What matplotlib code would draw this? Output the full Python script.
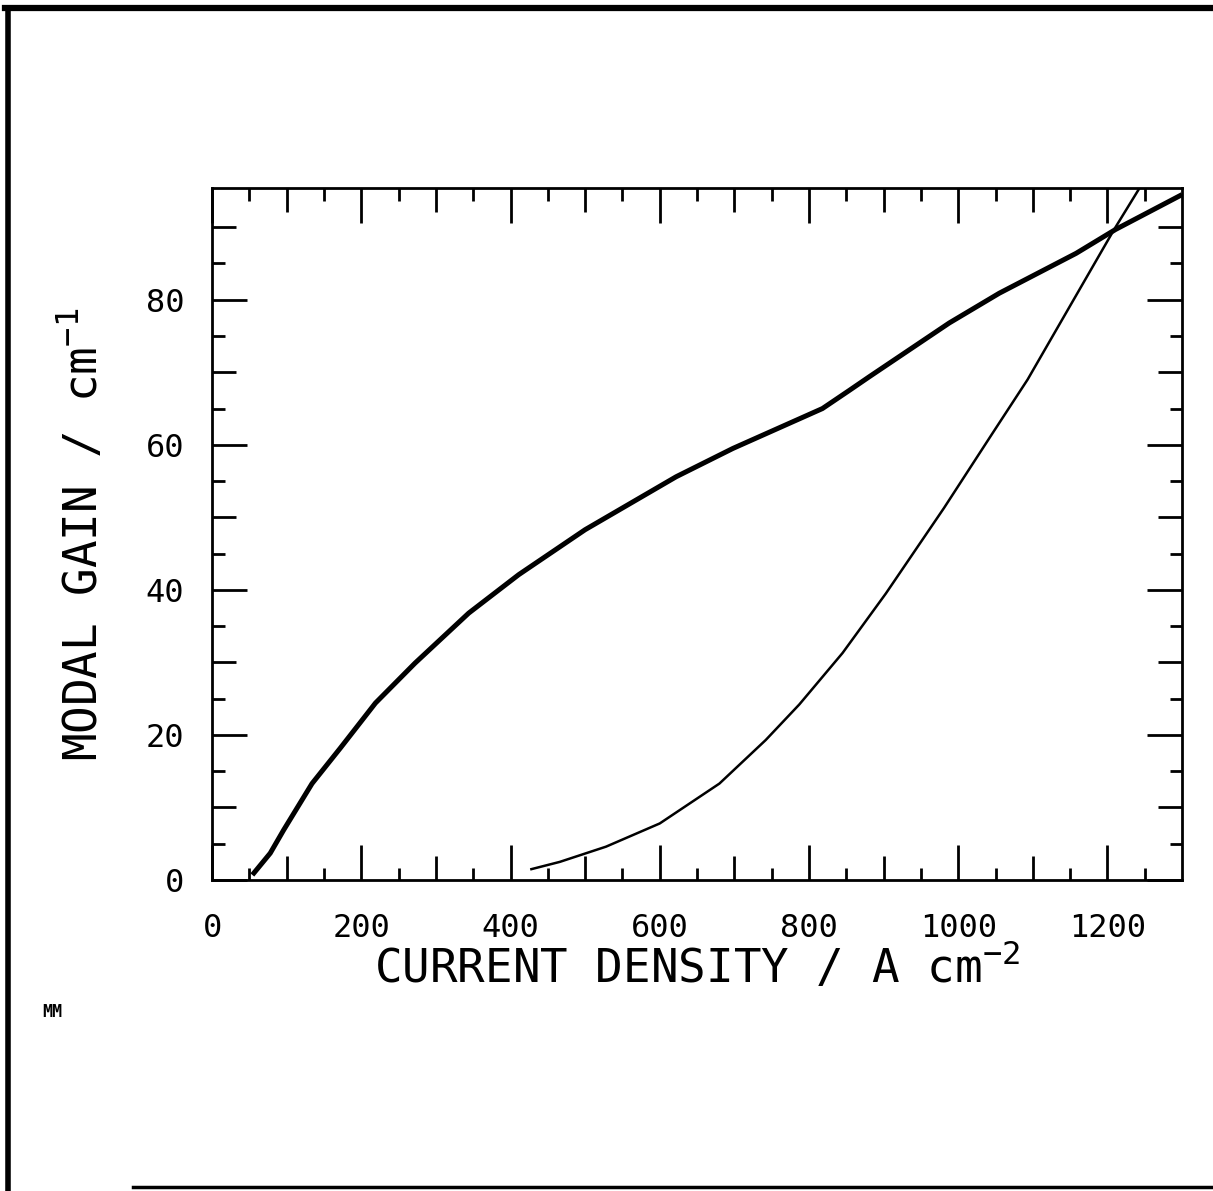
import matplotlib
matplotlib.use("Agg")
from matplotlib import pyplot as plt
from matplotlib.lines import Line2D
import numpy as np

# thick curve
thick_j = [54, 78, 96, 134, 172, 219, 272, 344, 411, 500, 622, 698, 818, 854, 881, 988, 1055, 1158, 1211, 1300]
thick_g = [0.7, 3.7, 6.9, 13.3, 18.2, 24.4, 29.9, 36.8, 42.1, 48.3, 55.6, 59.5, 65.0, 67.5, 69.4, 76.8, 80.9, 86.4, 89.7, 94.5]

# thin curve
thin_j = [428, 466, 528, 600, 680, 742, 787, 845, 903, 981, 1046, 1093, 1209, 1243]
thin_g = [1.5, 2.5, 4.6, 7.8, 13.3, 19.3, 24.2, 31.3, 39.5, 51.3, 61.6, 69.0, 89.7, 95.4]

x_major = [0, 200, 400, 600, 800, 1000, 1200]
x_labels = ["0", "200", "400", "600", "800", "1000", "1200"]
y_major = [0, 20, 40, 60, 80]
y_labels = ["0", "20", "40", "60", "80"]

plt.rcParams["font.family"] = ["DejaVu Sans Mono"]
plt.rcParams["mathtext.fontset"] = "custom"
plt.rcParams["mathtext.rm"] = "DejaVu Sans Mono"
plt.rcParams["mathtext.it"] = "DejaVu Sans Mono"
plt.rcParams["mathtext.bf"] = "DejaVu Sans Mono"

fig = plt.figure(figsize=(12.13, 11.91), dpi=100)
pos = [0.1748, 0.2611, 0.7997, 0.5810]
xlim = (0, 1300)
ylim = (0, 95.4)

ax = fig.add_axes(pos)
ax.plot(thick_j, thick_g, color="black", lw=3.6, solid_capstyle="butt")
ax.plot(thin_j, thin_g, color="black", lw=1.8)
ax.set_xlim(*xlim)
ax.set_ylim(*ylim)
for s in ax.spines.values():
    s.set_linewidth(2.0)

ax.set_xticks(x_major)
ax.set_xticklabels(x_labels)
ax.set_yticks(y_major)
ax.set_yticklabels(y_labels)
ax.set_xticks(np.arange(50, 1300, 100), minor=True)
ax.set_yticks(np.arange(5, 95, 10), minor=True)
ax.tick_params(which="major", direction="in", length=25, width=2,
               top=True, right=True, labelsize=23)
ax.tick_params(axis="x", which="major", pad=24)
ax.tick_params(axis="y", which="major", pad=20)
ax.tick_params(which="minor", direction="in", length=9, width=2,
               top=True, right=True)

# medium ticks at the in-between 100s / 10s
ax_mid = fig.add_axes(pos, frameon=False)
ax_mid.set_xlim(*xlim)
ax_mid.set_ylim(*ylim)
ax_mid.set_xticks(np.arange(100, 1300, 200))
ax_mid.set_yticks(np.arange(10, 95, 20))
ax_mid.tick_params(direction="in", length=17, width=2, top=True, right=True,
                   labelbottom=False, labelleft=False)
ax_mid.patch.set_visible(False)

ax.set_xlabel("CURRENT DENSITY / A cm$^{-2}$", fontsize=33, labelpad=-2)
ax.set_ylabel("MODAL GAIN / cm$^{-1}$", fontsize=33, labelpad=27)

fig.text(0.035, 1 - 1012 / 1191, "MM", fontsize=12, fontweight="bold", va="center")

# page frame
fig.add_artist(Line2D([0.007, 0.007], [0.0, 0.993], color="black", lw=4))
fig.add_artist(Line2D([0.004, 1.0], [0.993, 0.993], color="black", lw=4.5))
fig.add_artist(Line2D([0.11, 1.0], [0.003, 0.003], color="black", lw=2.5))

plt.savefig("out.png", dpi=100)
plt.close()
